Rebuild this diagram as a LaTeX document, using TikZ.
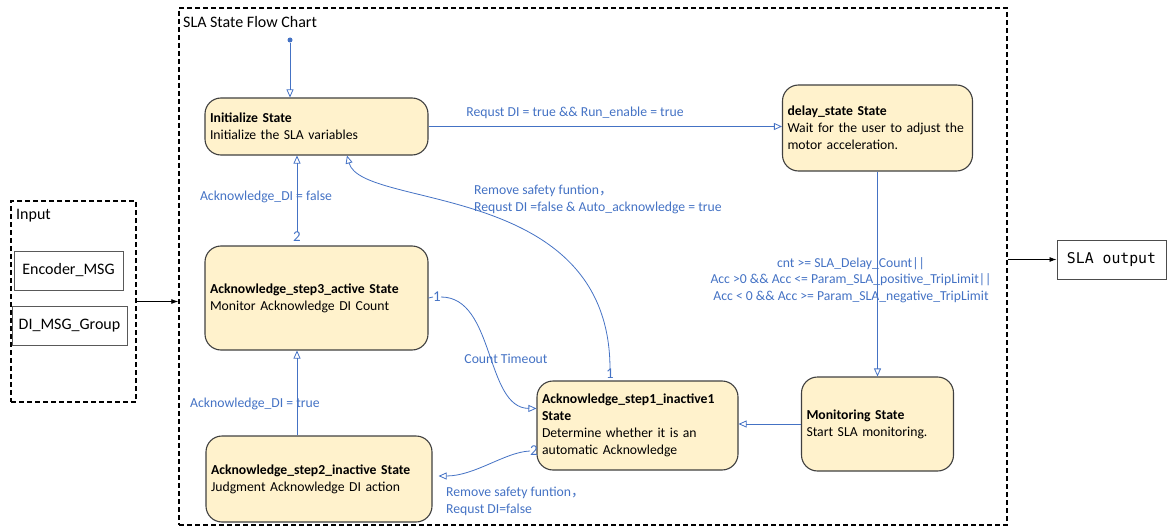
\documentclass[tikz,border=0pt]{standalone}
\usepackage{fontspec}
\setmainfont{Carlito}
\setmonofont{DejaVu Sans Mono}
\newfontfamily\cjk{Noto Sans CJK SC}
\definecolor{flowblue}{RGB}{68,114,196}
\definecolor{statefill}{RGB}{255,242,204}
\definecolor{stateedge}{RGB}{64,64,64}
\usetikzlibrary{arrows.meta}

\begin{document}
\begin{tikzpicture}[x=1pt, y=-1pt,
    state/.style={draw=stateedge, line width=1.1pt, fill=statefill, rounded corners=16pt,
      align=left, inner sep=5pt, font=\fontsize{13.7}{17}\selectfont},
    trans/.style={draw=flowblue, line width=0.8pt, -{Triangle[open, length=8pt, width=7pt]}},
    cond/.style={text=flowblue, inner sep=0pt, font=\fontsize{13.7}{17}\selectfont},
    port/.style={text=flowblue, inner sep=0pt, font=\fontsize{15}{17}\selectfont},
    dashbox/.style={draw, line width=1.4pt, dash pattern=on 5pt off 3pt},
    msgbox/.style={draw=black!65, line width=1pt, font=\fontsize{16}{18}\selectfont},
    flow/.style={draw, line width=0.8pt, -{Latex[length=7pt, width=5pt]}}]

\useasboundingbox (0,0) rectangle (1176,527);

% Frames
\node[dashbox, minimum width=828pt, minimum height=517pt] (chart) at (593,266.5) {};
\node[anchor=west, inner sep=0pt, font=\fontsize{16}{18}\selectfont] (title) at (183,22) {SLA State Flow Chart};
\node[dashbox, minimum width=125pt, minimum height=201pt] (inbox) at (73.5,301.5) {};
\node[anchor=west, inner sep=0pt, font=\fontsize{16}{18}\selectfont] (intitle) at (16,216) {Input};

% Inputs and output
\node[msgbox, minimum width=109pt, minimum height=39pt] (encmsg) at (68.5,270.5) {Encoder\_MSG};
\node[msgbox, minimum width=115pt, minimum height=39pt] (dimsg) at (69.5,325.5) {DI\_MSG\_Group};
\node[draw=black!70, line width=1pt, minimum width=109pt, minimum height=39pt,
  font=\ttfamily\fontsize{14.8}{17}\selectfont] (slaout) at (1111.5,259.5) {SLA output};

% States
\node[state, text width=213pt, minimum height=57pt] (init) at (316.5,126.5)
  {\textbf{Initialize State}\\Initialize the SLA variables};
\node[state, text width=180pt, minimum height=86pt] (delay) at (877.5,128)
  {\textbf{delay\_state State}\\Wait for the user to adjust the\\motor acceleration.};
\node[state, text width=213pt, minimum height=104pt] (step3) at (316.5,298)
  {\textbf{Acknowledge\_step3\_active State}\\Monitor Acknowledge DI Count};
\node[state, text width=216pt, minimum height=86pt] (step2) at (319,479)
  {\textbf{Acknowledge\_step2\_inactive State}\\Judgment Acknowledge DI action};
\node[state, text width=191pt, minimum height=89pt] (step1) at (637.5,425.5)
  {\textbf{Acknowledge\_step1\_inactive1}\\\textbf{State}\\Determine whether it is an\\automatic Acknowledge};
\node[state, text width=142pt, minimum height=94pt] (mon) at (877.5,424)
  {\textbf{Monitoring State}\\Start SLA monitoring.};

% Ports
\node[circle, fill=flowblue, inner sep=0pt, minimum size=5pt] (start) at (290,40) {};
\node[port] (two3) at (297,237) {2};
\node[port] (one3) at (437,297) {1};
\node[port] (one1) at (610,374) {1};
\node[port] (two1) at (534,451) {2};

% Transitions
\draw[trans] (start) -- (start |- init.north);
\draw[trans] (init.east) -- (init.east -| delay.west);
\draw[trans] (delay.south) -- (mon.north);
\draw[trans] (mon.west) -- (mon.west -| step1.east);
\draw[trans] (two3) -- (two3 |- init.south);
\draw[trans] (two3 |- step2.north) -- (two3 |- step3.south);
\draw[flowblue, line width=0.8pt] (step3.east) -- (one3.west);
\draw[trans] (one3.east) .. controls (495,297) and (485,408) .. ([yshift=17pt]step1.west);
\draw[trans] (one1.north) .. controls (610,180) and (362,210) .. ([xshift=30.5pt]init.south);
\draw[trans, shorten >=6pt] (two1.west) .. controls (505,452) and (475,476) .. ([yshift=3pt]step2.east);

% Conditions
\node[cond] (c1) at (575,113) {Requst DI = true \&\& Run\_enable = true};
\node[cond] (c2) at (266,197) {Acknowledge\_DI = false};
\node[cond] (c3) at (255,404) {Acknowledge\_DI = true};
\node[cond, align=left, anchor=north west] (c4) at (474,185)
  {Remove safety funtion{\cjk ，}\\Requst DI =false \& Auto\_acknowledge = true};
\node[cond] (c5) at (506,359) {Count Timeout};
\node[cond, align=center, font=\fontsize{13.7}{16.5}\selectfont] (c6) at (851,280)
  {cnt >= SLA\_Delay\_Count||\\Acc >0 \&\& Acc <= Param\_SLA\_positive\_TripLimit||\\Acc < 0 \&\& Acc >= Param\_SLA\_negative\_TripLimit};
\node[cond, align=left, anchor=north west] (c7) at (446,487)
  {Remove safety funtion{\cjk ，}\\Requst DI=false};

% Data flow
\draw[flow] (inbox.east) -- (inbox.east -| chart.west);
\draw[flow] (chart.east |- slaout.west) -- (slaout.west);
\end{tikzpicture}
\end{document}
